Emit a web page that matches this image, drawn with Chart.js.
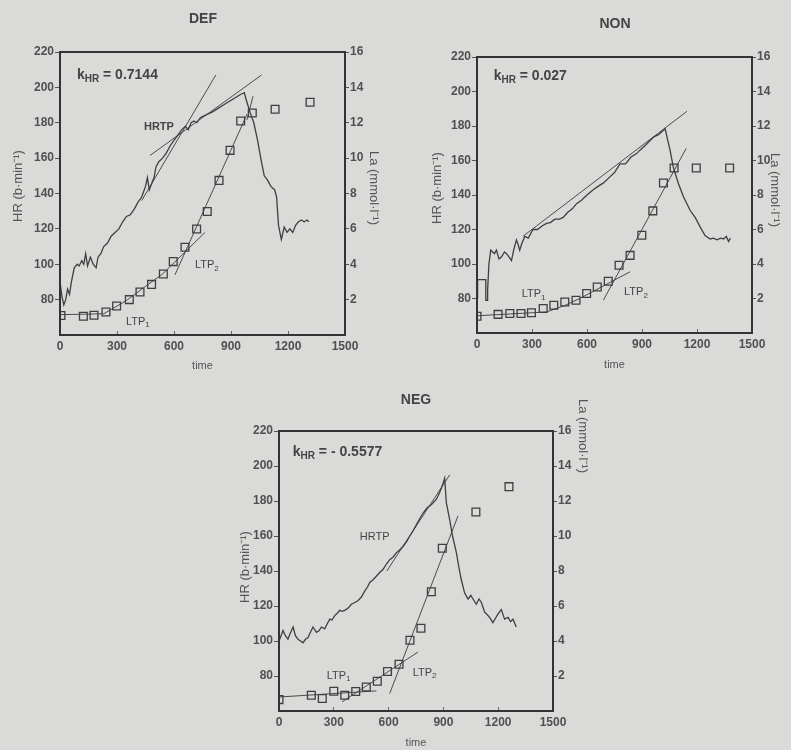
<!DOCTYPE html>
<html>
<head>
<meta charset="utf-8">
<script src="https://cdn.jsdelivr.net/npm/chart.js@4.4.1/dist/chart.umd.min.js"></script>
<style>
  body { margin: 0; width: 791px; height: 750px; overflow: hidden; position: relative; background: #dadad8; }
  canvas { position: absolute; }
</style>
</head>
<body>
<canvas id="def" width="395" height="380" style="left:0;top:0"></canvas>
<canvas id="non" width="391" height="380" style="left:400px;top:0"></canvas>
<canvas id="neg" width="395" height="370" style="left:200px;top:380px"></canvas>
<script>
// axis ticks shared by the three panels
var timeTicks = [0, 300, 600, 900, 1200, 1500];
var hrTicks = [80, 100, 120, 140, 160, 180, 200, 220];
var laTicks = [2, 4, 6, 8, 10, 12, 14, 16];

// DEF - heart rate trace
var defHrTime = [0,10,20,30,40,50,60,75,90,100,115,125,135,145,160,175,190,200,215,230,250,270,290,310,330,350,370,390,410,430,450,460,470,480,495,505,520,540,560,580,600,620,640,660,675,690,705,720,740,760,780,800,830,860,890,920,950,970,980,1000,1020,1040,1060,1075,1090,1110,1130,1140,1150,1165,1180,1195,1210,1225,1240,1255,1270,1285,1300,1310];
var defHr = [90,82,77,80,86,83,90,98,100,99,102,100,106,99,104,100,98,104,106,110,112,116,118,120,124,127,128,131,135,138,144,149,142,145,149,155,158,160,163,167,170,173,176,178,176,180,181,180,183,184,185,186,188,190,192,194,196,197,193,186,180,170,158,150,148,144,142,138,122,114,121,118,120,118,122,124,125,124,125,124];
// DEF - lactate samples
var defLaTime = [5,123,179,242,298,365,421,482,544,596,658,719,775,837,895,951,1012,1132,1316];
var defLa = [1.1,1.06,1.12,1.3,1.64,2.0,2.43,2.86,3.45,4.15,4.96,5.99,6.98,8.74,10.44,12.1,12.55,12.76,13.16];

// NON
var nonHrTime = [0,0,5,5,48,48,55,58,65,75,95,106,120,133,150,161,175,188,200,215,225,233,245,261,280,305,330,355,379,400,425,450,470,495,520,543,570,600,634,660,690,725,750,780,810,840,870,889,920,962,990,1017,1026,1040,1053,1071,1099,1126,1163,1190,1217,1244,1272,1290,1308,1330,1345,1360,1372,1382];
var nonHr = [90,80,80,91,91,79,79,85,100,108,106,108,103,104,107,106,104,102,108,114,111,108,112,116,115,120,120,122,123.5,124,126,126,127,130,132,135,137,140,143,145,147,150.5,153,158,158,162,164,166,169,173.5,175,177.5,178.5,172,166,156,146.5,139,131,127,121.5,116.5,114.5,115,114,115,114.5,116,113,115];
var nonLaTime = [0,115,179,240,297,361,419,479,540,598,656,716,775,835,899,959,1017,1075,1196,1378];
var nonLa = [0.97,1.08,1.13,1.13,1.17,1.42,1.61,1.8,1.9,2.29,2.67,3.0,3.93,4.5,5.67,7.08,8.7,9.57,9.57,9.57];

// NEG
var negHrTime = [0,4,22,35,49,60,77,90,104,118,131,145,159,172,186,205,220,232,250,265,278,290,305,320,332,345,360,380,396,415,432,450,469,485,497,515,533,550,570,588,606,625,643,660,679,700,716,734,760,788,810,835,862,880,898,907,916,934,950,971,985,998,1016,1035,1050,1062,1080,1095,1108,1126,1140,1153,1171,1185,1199,1217,1235,1254,1268,1281,1299];
var negHr = [100,100,106,103,101,104,108,103,101,100,99,101,102,105,108,105,106,108,107,110,112.5,112,114.5,116,117.5,117,117.5,119,121,122,123,125,128.5,131,133.5,135,137,139,141,144,146.5,148,150.5,152,154,157,160,163,168,173,176,178,181,185,190,193,179,169.5,160,150.5,142,135,127.5,124,126,124,121,124,122,116.5,115,113.5,110.5,113,115.5,118,112.5,113.5,111,112.5,108];
var negLaTime = [0,177,237,300,360,420,478,538,594,657,717,777,834,894,1078,1259];
var negLa = [0.65,0.9,0.71,1.13,0.9,1.11,1.37,1.7,2.26,2.67,4.04,4.73,6.81,9.3,11.37,12.82];

// fitted lines (time, value)
var defFits = [
  { axis: 'y', t: [430, 820], v: [136, 207] },
  { axis: 'y', t: [474, 1061], v: [161.5, 207] },
  { axis: 'y', t: [984, 1016], v: [181.6, 195] },
  { axis: 'y1', t: [0, 230, 350, 450, 540, 763], v: [1.15, 1.2, 1.95, 2.75, 3.45, 5.8] },
  { axis: 'y1', t: [605, 985], v: [3.4, 12.5] }
];
var nonFits = [
  { axis: 'y', t: [250, 1145], v: [116, 188.5] },
  { axis: 'y1', t: [0, 380, 480, 560, 640, 835], v: [1.0, 1.22, 1.6, 2.0, 2.45, 3.55] },
  { axis: 'y1', t: [689, 1141], v: [1.9, 10.7] }
];
var negFits = [
  { axis: 'y', t: [590, 935], v: [140, 195] },
  { axis: 'y1', t: [0, 533], v: [0.8, 1.15] },
  { axis: 'y1', t: [345, 761], v: [0.52, 3.37] },
  { axis: 'y1', t: [606, 980], v: [1.0, 11.15] }
];

var ink = '#3f3f3f';
var fam = '"Liberation Sans", Arial, sans-serif';

function pts(ts, vs) {
  return ts.map(function (t, i) { return { x: t, y: vs[i] }; });
}

// draws a string made of normal / subscript pieces, left aligned, vertically centred
function richText(ctx, x, y, parts, size, weight, color) {
  ctx.save();
  ctx.fillStyle = color;
  ctx.textAlign = 'left';
  ctx.textBaseline = 'middle';
  parts.forEach(function (p) {
    var small = p[1] === 'sub';
    ctx.font = weight + ' ' + (small ? Math.round(size * 0.72) : size) + 'px ' + fam;
    ctx.fillText(p[0], x, y + (small ? size * 0.32 : 0));
    x += ctx.measureText(p[0]).width;
  });
  ctx.restore();
}

function rotText(ctx, text, x, y, angle, size) {
  ctx.save();
  ctx.translate(x, y);
  ctx.rotate(angle);
  ctx.font = size + 'px ' + fam;
  ctx.fillStyle = '#555';
  ctx.textAlign = 'center';
  ctx.textBaseline = 'middle';
  ctx.fillText(text, 0, 0);
  ctx.restore();
}

var panelPlugin = {
  id: 'panel',
  afterDatasetsDraw: function (chart, args, p) {
    var ctx = chart.ctx, a = chart.chartArea;
    ctx.save();
    ctx.strokeStyle = '#333';
    ctx.lineWidth = 2;
    ctx.strokeRect(a.left, a.top, a.right - a.left, a.bottom - a.top);
    ctx.restore();
  },
  afterDraw: function (chart, args, p) {
    var ctx = chart.ctx, a = chart.chartArea;
    ctx.save();
    ctx.font = 'bold 14px ' + fam;
    ctx.fillStyle = '#444';
    ctx.textAlign = 'center';
    ctx.textBaseline = 'middle';
    ctx.fillText(p.title, p.titleX, p.titleY);
    ctx.font = '11px ' + fam;
    ctx.fillStyle = '#555';
    ctx.fillText('time', (a.left + a.right) / 2, p.timeY);
    ctx.restore();
    rotText(ctx, 'HR (b·min⁻¹)', p.hrTitle[0], p.hrTitle[1], -Math.PI / 2, 13);
    rotText(ctx, 'La (mmol·l⁻¹)', p.laTitle[0], p.laTitle[1], Math.PI / 2, 13);
    p.notes.forEach(function (n) {
      var x = chart.scales.x.getPixelForValue(n.t);
      var y = chart.scales[n.axis].getPixelForValue(n.v);
      richText(ctx, x, y, n.parts, n.size, n.weight, '#444');
    });
  }
};

function plain(v) { return String(v); }

function makePanel(id, p) {
  var datasets = [
    { data: pts(p.hrTime, p.hr), yAxisID: 'y', borderColor: ink, borderWidth: 1.3, pointRadius: 0, tension: 0 },
    { data: pts(p.laTime, p.la), yAxisID: 'y1', showLine: false, pointStyle: 'rect', pointRadius: 5.5,
      borderColor: ink, borderWidth: 1.3, backgroundColor: 'rgba(0,0,0,0)' }
  ];
  p.fits.forEach(function (f) {
    datasets.push({ data: pts(f.t, f.v), yAxisID: f.axis, borderColor: '#4a4a4a', borderWidth: 1, pointRadius: 0 });
  });
  var tickFont = { family: fam, size: 12, weight: 'bold' };
  new Chart(document.getElementById(id), {
    type: 'line',
    data: { datasets: datasets },
    plugins: [panelPlugin],
    options: {
      responsive: false,
      animation: false,
      events: [],
      layout: { padding: { top: p.top, left: 0, right: 0, bottom: 0 } },
      plugins: { legend: { display: false }, tooltip: { enabled: false }, panel: p.text },
      scales: {
        x: {
          type: 'linear', min: 0, max: 1500,
          afterBuildTicks: function (s) { s.ticks = timeTicks.map(function (v) { return { value: v }; }); },
          afterFit: function (s) { s.height = p.bottomH; },
          grid: { drawOnChartArea: false, tickLength: -4, color: '#666' },
          border: { display: false },
          ticks: { padding: 8, color: '#505050', font: tickFont, maxRotation: 0, callback: plain }
        },
        y: {
          position: 'left', min: 60, max: 220,
          afterBuildTicks: function (s) { s.ticks = hrTicks.map(function (v) { return { value: v }; }); },
          afterFit: function (s) { s.width = p.leftW; },
          grid: { drawOnChartArea: false, tickLength: 5, color: '#555' },
          border: { display: false },
          ticks: { padding: 1, color: '#505050', font: tickFont, callback: plain }
        },
        y1: {
          position: 'right', min: 0, max: 16,
          afterBuildTicks: function (s) { s.ticks = laTicks.map(function (v) { return { value: v }; }); },
          afterFit: function (s) { s.width = p.rightW; },
          grid: { drawOnChartArea: false, tickLength: 4, color: '#555' },
          border: { display: false },
          ticks: { padding: 1, color: '#505050', font: tickFont, callback: plain }
        }
      }
    }
  });
}

function kLabel(t, v, value) {
  return { t: t, v: v, axis: 'y', size: 14, weight: 'bold', parts: [['k', 'n'], ['HR', 'sub'], [' = ' + value, 'n']] };
}
function ltp(t, v, n, weight) {
  return { t: t, v: v, axis: 'y1', size: 11, weight: weight, parts: [['LTP', 'n'], [n, 'sub']] };
}

makePanel('def', {
  hrTime: defHrTime, hr: defHr, laTime: defLaTime, la: defLa, fits: defFits,
  top: 52, leftW: 60, rightW: 50, bottomH: 45,
  text: {
    title: 'DEF', titleX: 203, titleY: 19, timeY: 366,
    hrTitle: [18, 186], laTitle: [374, 188],
    notes: [
      kLabel(89, 207, '0.7144'),
      { t: 442, v: 177.6, axis: 'y', size: 11, weight: 'bold', parts: [['HRTP', 'n']] },
      ltp(347, 0.75, '1', 'normal'),
      ltp(710, 3.95, '2', 'normal')
    ]
  }
});

makePanel('non', {
  hrTime: nonHrTime, hr: nonHr, laTime: nonLaTime, la: nonLa, fits: nonFits,
  top: 57, leftW: 77, rightW: 39, bottomH: 47,
  text: {
    title: 'NON', titleX: 215, titleY: 24, timeY: 365,
    hrTitle: [37, 188], laTitle: [375, 190],
    notes: [
      kLabel(91, 209, '0.027'),
      ltp(244, 2.25, '1', 'normal'),
      ltp(802, 2.36, '2', 'normal')
    ]
  }
});

makePanel('neg', {
  hrTime: negHrTime, hr: negHr, laTime: negLaTime, la: negLa, fits: negFits,
  top: 51, leftW: 79, rightW: 42, bottomH: 39,
  text: {
    title: 'NEG', titleX: 216, titleY: 20, timeY: 363,
    hrTitle: [45, 187], laTitle: [383, 56],
    notes: [
      kLabel(75, 208, '- 0.5577'),
      { t: 442, v: 159.2, axis: 'y', size: 11, weight: 'normal', parts: [['HRTP', 'n']] },
      ltp(261, 2.02, '1', 'normal'),
      ltp(732, 2.19, '2', 'normal')
    ]
  }
});
</script>
</body>
</html>
